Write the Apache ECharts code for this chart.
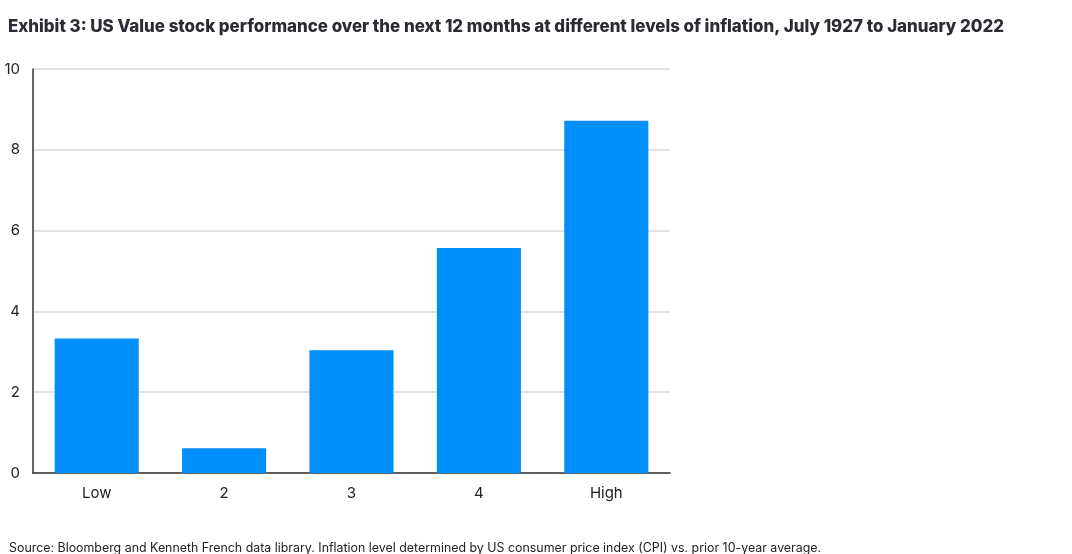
<!DOCTYPE html>
<html>
<head>
<meta charset="utf-8">
<script src="https://cdn.jsdelivr.net/npm/echarts@6/dist/echarts.min.js"></script>
<style>
  html, body { margin: 0; padding: 0; background: #fff; }
  #chart { width: 1072px; height: 554px; }
</style>
</head>
<body>
<div id="chart"></div>
<script>
// inflation levels (quintiles)
var categories = ['Low', '2', '3', '4', 'High'];
// average 12m performance of US Value
var performance = [3.33, 0.61, 3.04, 5.57, 8.72];
var yTicks = { min: 0, max: 10, interval: 2 };

var titleText = 'Exhibit 3: US Value stock performance over the next 12 months at different levels of inflation, July 1927 to January 2022';
var sourceText = 'Source: Bloomberg and Kenneth French data library. Inflation level determined by US consumer price index (CPI) vs. prior 10-year average.';

var myChart = echarts.init(document.getElementById('chart'));
myChart.setOption({
    animation: false,
    title: [
        {
            text: titleText,
            left: 3,
            top: 13,
            textStyle: { fontFamily: 'Inter', fontSize: 16.9, fontWeight: 800, color: '#2b2b33' }
        },
        {
            text: sourceText,
            left: 4,
            top: 537,
            textStyle: { fontFamily: 'Inter', fontSize: 12.4, fontWeight: 'normal', color: '#222' }
        }
    ],
    grid: { left: 33, right: 402, top: 69, bottom: 81, containLabel: false },
    xAxis: {
        type: 'category',
        data: categories,
        axisLine: { lineStyle: { color: '#333', width: 1.5 } },
        axisTick: { show: false },
        axisLabel: { fontFamily: 'Inter', fontSize: 15, color: '#222', margin: 13 }
    },
    yAxis: {
        type: 'value',
        min: yTicks.min,
        max: yTicks.max,
        interval: yTicks.interval,
        axisLine: { show: true, lineStyle: { color: '#333', width: 1.5 } },
        axisTick: { show: false },
        axisLabel: { fontFamily: 'Inter', fontSize: 15, color: '#222', margin: 13 },
        splitLine: { lineStyle: { color: '#e2e2e2', width: 2 } }
    },
    series: [
        {
            type: 'bar',
            data: performance,
            barWidth: '66%',
            itemStyle: { color: '#008ffb' }
        }
    ]
});
</script>
</body>
</html>
